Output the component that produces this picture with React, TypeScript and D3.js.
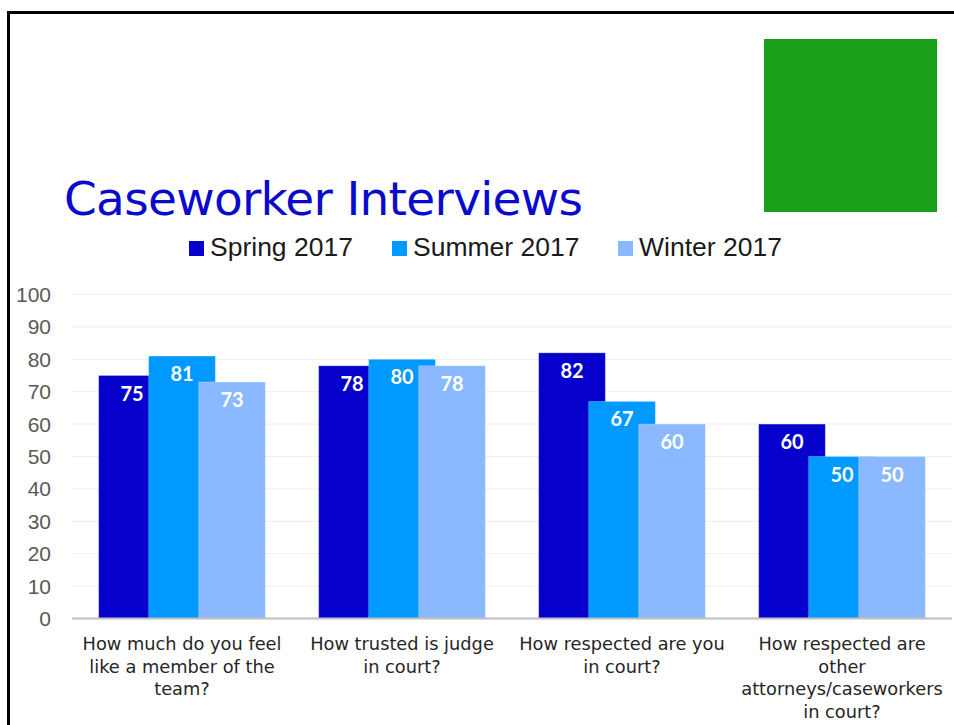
import React from "react";
import * as d3 from "d3";

const title = "Caseworker Interviews";
const categories = ["Q1", "Q2", "Q3", "Q4"];
const categoryLines: string[][] = [
  ["How much do you feel", "like a member of the", "team?"],
  ["How trusted is judge", "in court?"],
  ["How respected are you", "in court?"],
  ["How respected are", "other", "attorneys/caseworkers", "in court?"],
];
const seriesNames = ["Spring 2017", "Summer 2017", "Winter 2017"];
const seriesColors = ["#0600CC", "#0099FF", "#8AB9FF"];
const spring = [75, 78, 82, 60];
const summer = [81, 80, 67, 50];
const winter = [73, 78, 60, 50];
const seriesValues = [spring, summer, winter];
const yTicks = [0, 10, 20, 30, 40, 50, 60, 70, 80, 90, 100];

const W = 954;
const H = 725;

export default function App() {
  const x = d3
    .scaleBand<string>()
    .domain(categories)
    .range([72, 952])
    .paddingInner(0.2424)
    .paddingOuter(0.1212);
  const y = d3.scaleLinear().domain([0, 100]).range([618.5, 294.5]);
  const bw = x.bandwidth() / 2.5;
  const step = bw * 0.75;

  const legendX = [189, 392, 618];

  return (
    <div style={{ position: "absolute", left: 0, top: 0 }}>
      <svg width={W} height={H} style={{ display: "block", background: "#fff" }}>
        {/* frame */}
        <line x1={8.5} y1={12.5} x2={W} y2={12.5} stroke="#000" strokeWidth={3} />
        <line x1={8.5} y1={11} x2={8.5} y2={H} stroke="#000" strokeWidth={3} />
        {/* green block */}
        <rect x={764} y={39} width={173} height={173} fill="#1A9F18" />
        {/* title */}
        <text
          x={64}
          y={214.5}
          fontFamily="DejaVu Sans"
          fontSize={47}
          fill="#0A0ACC"
          textLength={519}
          lengthAdjust="spacing"
        >
          {title}
        </text>
        {/* legend */}
        {seriesNames.map((s, i) => (
          <g key={s}>
            <rect x={legendX[i]} y={241} width={15} height={15} fill={seriesColors[i]} />
            <text
              x={legendX[i] + 21}
              y={256}
              fontFamily="Liberation Sans"
              fontSize={26.5}
              fill="#1a1a1a"
            >
              {s}
            </text>
          </g>
        ))}
        {/* gridlines */}
        {yTicks.map((t) => (
          <g key={t}>
            {t > 0 && (
              <line x1={72} x2={952} y1={y(t)} y2={y(t)} stroke="#EDEDED" strokeWidth={1} />
            )}
            <text
              x={51}
              y={y(t)}
              dy="0.36em"
              textAnchor="end"
              fontFamily="Liberation Sans"
              fontSize={21}
              fill="#595959"
            >
              {t}
            </text>
          </g>
        ))}
        {/* bars */}
        {seriesValues.map((vals, si) =>
          vals.map((v, ci) => {
            const bx = (x(categories[ci]) as number) + si * step;
            return (
              <rect
                key={`${si}-${ci}`}
                x={bx}
                y={y(v)}
                width={bw}
                height={y(0) - y(v)}
                fill={seriesColors[si]}
                stroke="#ffffff"
                strokeOpacity={0.25}
                strokeWidth={1}
              />
            );
          })
        )}
        {/* labels */}
        {seriesValues.map((vals, si) =>
          vals.map((v, ci) => {
            const bx = (x(categories[ci]) as number) + si * step;
            return (
              <text
                key={`l-${si}-${ci}`}
                x={bx + bw / 2}
                y={y(v) + 25}
                textAnchor="middle"
                fontFamily="Lato"
                fontWeight="bold"
                fontSize={20}
                fill="#ffffff"
              >
                {v}
              </text>
            );
          })
        )}
        {/* x axis */}
        <line x1={72} x2={952} y1={y(0)} y2={y(0)} stroke="#BFBFBF" strokeWidth={2} />
        {categories.map((c, ci) => {
          const cx = (x(c) as number) + x.bandwidth() / 2;
          return (
            <text
              key={c}
              textAnchor="middle"
              fontFamily="DejaVu Sans"
              fontSize={17.8}
              fill="#262626"
            >
              {categoryLines[ci].map((ln, li) => (
                <tspan key={li} x={cx} y={650 + li * 22.5}>
                  {ln}
                </tspan>
              ))}
            </text>
          );
        })}
      </svg>
    </div>
  );
}
